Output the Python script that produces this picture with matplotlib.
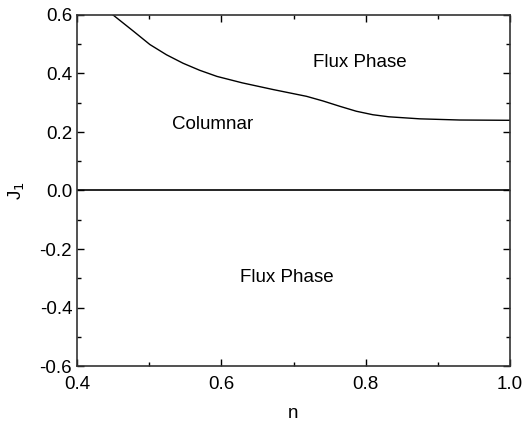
import matplotlib
matplotlib.use("Agg")
import matplotlib.pyplot as plt
from matplotlib.ticker import MultipleLocator

plt.rcParams['font.family'] = ['Liberation Sans', 'DejaVu Sans']

# phase boundary between Columnar and Flux Phase
n_vals = [0.450, 0.478, 0.501, 0.524, 0.547, 0.570, 0.594, 0.629, 0.672,
          0.718, 0.741, 0.764, 0.787, 0.810, 0.832, 0.875, 0.930, 1.000]
j_vals = [0.600, 0.545, 0.499, 0.464, 0.435, 0.411, 0.390, 0.368, 0.345,
          0.322, 0.306, 0.288, 0.271, 0.259, 0.252, 0.245, 0.241, 0.240]

# J1 = 0 boundary
n_zero = [0.4, 1.0]
j_zero = [0.0, 0.0]

fig = plt.figure(figsize=(5.23, 4.23), dpi=100)
ax = fig.add_axes([77/523, 1 - 366/423, 433/523, 351/423])

ax.plot(n_vals, j_vals, color='black', lw=1.0)
ax.plot(n_zero, j_zero, color='black', lw=1.2)

ax.text(0.792, 0.436, "Flux Phase", fontsize=13.5, ha='center', va='center')
ax.text(0.588, 0.224, "Columnar", fontsize=13.5, ha='center', va='center')
ax.text(0.691, -0.296, "Flux Phase", fontsize=13.5, ha='center', va='center')

ax.set_xlim(0.4, 1.0)
ax.set_ylim(-0.6, 0.6)
ax.xaxis.set_major_locator(MultipleLocator(0.2))
ax.xaxis.set_minor_locator(MultipleLocator(0.1))
ax.yaxis.set_major_locator(MultipleLocator(0.2))
ax.yaxis.set_minor_locator(MultipleLocator(0.1))
ax.xaxis.set_major_formatter(plt.FormatStrFormatter('%.1f'))
ax.yaxis.set_major_formatter(plt.FormatStrFormatter('%.1f'))
ax.tick_params(which='both', direction='in', top=True, right=True, labelsize=13.5)
ax.tick_params(which='major', length=5, width=1)
ax.tick_params(which='minor', length=3, width=1)
ax.tick_params(axis='x', pad=7)
for s in ax.spines.values():
    s.set_linewidth(1.2)
    s.set_color('#333333')

ax.set_xlabel("n", fontsize=13.5, labelpad=9)
ax.set_ylabel("J$_1$", fontsize=13.5, labelpad=9)

fig.savefig("out.png", dpi=100)
